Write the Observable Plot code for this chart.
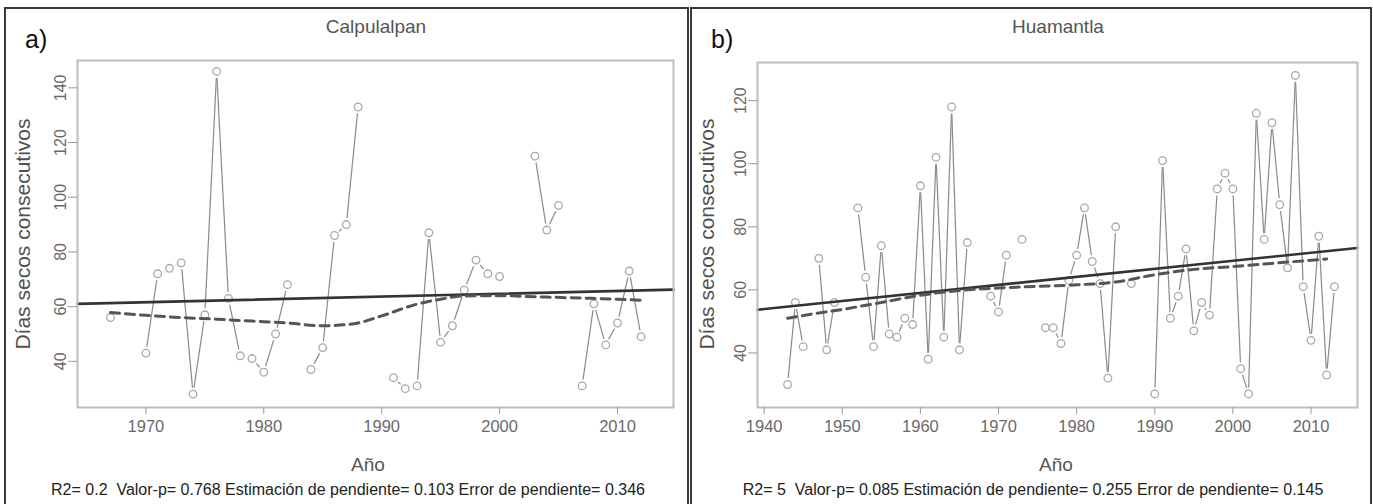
<!DOCTYPE html>
<html><head><meta charset="utf-8">
<script src="https://cdn.jsdelivr.net/npm/d3@7"></script>
<script src="https://cdn.jsdelivr.net/npm/@observablehq/plot@0.6"></script>
<style>
body{margin:0;background:#fff;font-family:"Liberation Sans",Arial,sans-serif;}
#wrap{position:relative;width:1373px;height:504px;overflow:hidden;background:#fff;}
.panel{position:absolute;border:2px solid #3a3a3a;box-sizing:border-box;}
.abs{position:absolute;white-space:nowrap;line-height:1;}
.svgbox{position:absolute;top:0;}
</style></head><body><div id="wrap"></div>
<script>
// ---------- Data: a) Calpulalpan ----------
const yearsA = [1967,1968,1969,1970,1971,1972,1973,1974,1975,1976,1977,1978,1979,1980,1981,1982,1983,1984,1985,1986,1987,1988,1989,1990,1991,1992,1993,1994,1995,1996,1997,1998,1999,2000,2001,2002,2003,2004,2005,2006,2007,2008,2009,2010,2011,2012];
const valuesA = [56,null,null,43,72,74,76,28,57,146,63,42,41,36,50,68,null,37,45,86,90,133,null,null,34,30,31,87,47,53,66,77,72,71,null,null,115,88,97,null,31,61,46,54,73,49];
const lowYearsA = [1967,1970,1973,1976,1979,1982,1985,1987,1988,1990,1993,1995,1997,2000,2003,2007,2010,2012];
const lowValsA  = [57.8,56.8,56,55.4,54.7,54,53,53.4,54,56.6,60.9,62.7,63.9,64,63.6,63.1,62.7,62.3];
const trendYearsA = [1964.2, 2014.75];
const trendValsA  = [61.0, 66.2];
const xTicksA = [1970,1980,1990,2000,2010];
const yTicksA = [40,60,80,100,120,140];

// ---------- Data: b) Huamantla ----------
const yearsB = [1943,1944,1945,1946,1947,1948,1949,1950,1951,1952,1953,1954,1955,1956,1957,1958,1959,1960,1961,1962,1963,1964,1965,1966,1967,1968,1969,1970,1971,1972,1973,1974,1975,1976,1977,1978,1979,1980,1981,1982,1983,1984,1985,1986,1987,1988,1989,1990,1991,1992,1993,1994,1995,1996,1997,1998,1999,2000,2001,2002,2003,2004,2005,2006,2007,2008,2009,2010,2011,2012,2013];
const valuesB = [30,56,42,null,70,41,56,null,null,86,64,42,74,46,45,51,49,93,38,102,45,118,41,75,null,null,58,53,71,null,76,null,null,48,48,43,63,71,86,69,62,32,80,null,62,null,null,27,101,51,58,73,47,56,52,92,97,92,35,27,116,76,113,87,67,128,61,44,77,33,61];
const lowYearsB = [1943,1946,1950,1955,1960,1965,1970,1975,1980,1985,1990,1995,2000,2005,2010,2012];
const lowValsB  = [51,52.3,53.8,56,58.3,59.8,60.6,61.1,61.6,62.5,64.8,66.5,67.4,68.4,69.4,69.8];
const trendYearsB = [1939.15, 2015.95];
const trendValsB  = [53.7, 73.3];
const xTicksB = [1940,1950,1960,1970,1980,1990,2000,2010];
const yTicksB = [40,60,80,100,120];

function rowsOf(years, vals){ return years.map((y,i)=>({year:y, v:vals[i]})); }
function segsOf(years, vals){
  const s=[];
  for(let i=0;i<years.length-1;i++){
    if(vals[i]!=null && vals[i+1]!=null && years[i+1]-years[i]===1)
      s.push({x1:years[i],y1:vals[i],x2:years[i+1],y2:vals[i+1]});
  }
  return s;
}

function makePanel(cfg){
  const rows = rowsOf(cfg.years, cfg.vals).filter(d=>d.v!=null);
  const segs = segsOf(cfg.years, cfg.vals);
  const low = cfg.lowYears.map((y,i)=>({year:y, v:cfg.lowVals[i]}));
  const trend = cfg.trendYears.map((y,i)=>({year:y, v:cfg.trendVals[i]}));
  return Plot.plot({
    width: cfg.width, height: 480,
    marginLeft: cfg.ml, marginRight: cfg.mr, marginTop: cfg.mt, marginBottom: 73,
    x: {domain: cfg.xDomain, label: null},
    y: {domain: cfg.yDomain, label: null},
    style: {fontFamily: '"Liberation Sans", Arial, sans-serif', color: "#6a6a6a", background: "transparent", overflow: "visible"},
    marks: [
      Plot.link(segs, {x1:"x1", y1:"y1", x2:"x2", y2:"y2", stroke:"#8a8a8a", strokeWidth:1.2}),
      Plot.dot(rows, {x:"year", y:"v", r:6.5, fill:"white", stroke:"none"}),
      Plot.dot(rows, {x:"year", y:"v", r:3.8, fill:"white", stroke:"#a8a8a8", strokeWidth:1.3}),
      Plot.line(trend, {x:"year", y:"v", stroke:"#333", strokeWidth:2.6}),
      Plot.line(low, {x:"year", y:"v", stroke:"#555", strokeWidth:3, strokeDasharray:"9,6", curve:"monotone-x"}),
      Plot.frame({stroke:"#bdbdbd", strokeWidth:2}),
      Plot.axisX({ticks: cfg.xTicks, tickFormat: d=>String(d), tickSize:7, tickPadding:6, fontSize:16.5, stroke:"#999", fill:"#6a6a6a", label:null}),
      Plot.axisY({ticks: cfg.yTicks, tickFormat: d=>String(d), tickSize:9, tickPadding:3, tickRotate:-90, fontSize:16, stroke:"#999", fill:"#6a6a6a", label:null})
    ]
  });
}

const wrap = document.getElementById("wrap");
function addDiv(cls, css, text){
  const d=document.createElement("div"); d.className=cls; d.style.cssText=css; if(text!=null) d.textContent=text; wrap.appendChild(d); return d;
}

// panel frames
addDiv("panel","left:4px;top:7px;width:685px;height:510px;");
addDiv("panel","left:690px;top:7px;width:682px;height:510px;");

// plots
const pA = makePanel({years:yearsA, vals:valuesA, lowYears:lowYearsA, lowVals:lowValsA, trendYears:trendYearsA, trendVals:trendValsA,
  xTicks:xTicksA, yTicks:yTicksA, width:687, ml:77, mr:14, mt:60, xDomain:[1964.2,2014.75], yDomain:[23.1,150]});
const bA = addDiv("svgbox","left:0px;"); bA.appendChild(pA);
const pB = makePanel({years:yearsB, vals:valuesB, lowYears:lowYearsB, lowVals:lowValsB, trendYears:trendYearsB, trendVals:trendValsB,
  xTicks:xTicksB, yTicks:yTicksB, width:686, ml:70, mr:16, mt:62, xDomain:[1939.15,2015.95], yDomain:[22.7,132.1]});
const bB = addDiv("svgbox","left:687px;"); bB.appendChild(pB);

// texts
addDiv("abs","left:25px;top:27px;font-size:25px;color:#111;","a)");
addDiv("abs","left:711px;top:27px;font-size:25px;color:#111;","b)");
addDiv("abs","left:376px;top:17px;transform:translateX(-50%);font-size:19px;color:#555;","Calpulalpan");
addDiv("abs","left:1058px;top:17px;transform:translateX(-50%);font-size:19px;color:#555;","Huamantla");
addDiv("abs","left:368px;top:455px;transform:translateX(-50%);font-size:19px;color:#555;","Año");
addDiv("abs","left:1056px;top:455px;transform:translateX(-50%);font-size:19px;color:#555;","Año");
addDiv("abs","left:22px;top:234px;transform:translate(-50%,-50%) rotate(-90deg);font-size:21px;color:#505050;","Días secos consecutivos");
addDiv("abs","left:706px;top:234px;transform:translate(-50%,-50%) rotate(-90deg);font-size:21px;color:#505050;","Días secos consecutivos");
addDiv("abs","left:348px;top:482px;transform:translateX(-50%);font-size:16px;color:#222;","R2= 0.2\u00a0 Valor-p= 0.768 Estimación de pendiente= 0.103 Error de pendiente= 0.346");
addDiv("abs","left:1033px;top:482px;transform:translateX(-50%);font-size:16px;color:#222;","R2= 5\u00a0 Valor-p= 0.085 Estimación de pendiente= 0.255 Error de pendiente= 0.145");
</script></body></html>
